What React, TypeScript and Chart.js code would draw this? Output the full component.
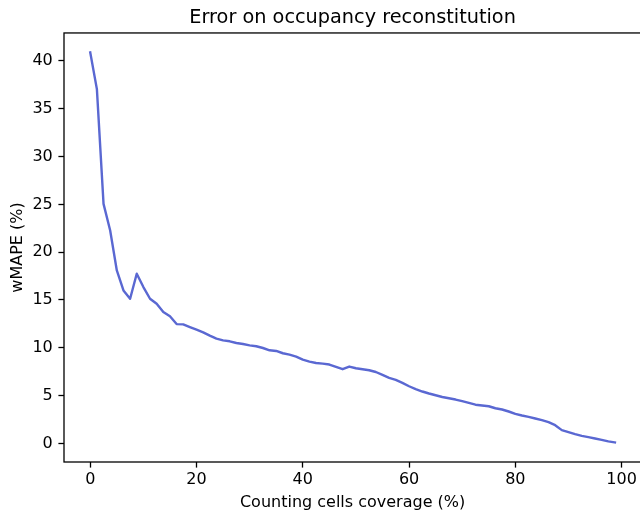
import React, { useEffect, useRef } from "react";
import { Chart, registerables } from "chart.js";

Chart.register(...registerables);

const coverage = [
  0, 1.25, 2.5, 3.75, 5, 6.25, 7.5, 8.75, 10, 11.25,
  12.5, 13.75, 15, 16.25, 17.5, 18.75, 20, 21.25, 22.5, 23.75,
  25, 26.25, 27.5, 28.75, 30, 31.25, 32.5, 33.75, 35, 36.25,
  37.5, 38.75, 40, 41.25, 42.5, 43.75, 45, 46.25, 47.5, 48.75,
  50, 51.25, 52.5, 53.75, 55, 56.25, 57.5, 58.75, 60, 61.25,
  62.5, 63.75, 65, 66.25, 67.5, 68.75, 70, 71.25, 72.5, 73.75,
  75, 76.25, 77.5, 78.75, 80, 81.25, 82.5, 83.75, 85, 86.25,
  87.5, 88.75, 90, 91.25, 92.5, 93.75, 95, 96.25, 97.5, 98.75,
];

const wmape = [
  40.88, 37.05, 25.05, 22.26, 18.09, 16.0, 15.13, 17.74, 16.35, 15.13,
  14.6, 13.74, 13.29, 12.48, 12.45, 12.17, 11.9, 11.62, 11.27, 10.96,
  10.78, 10.68, 10.5, 10.4, 10.26, 10.16, 9.98, 9.74, 9.67, 9.43,
  9.29, 9.08, 8.77, 8.56, 8.41, 8.35, 8.25, 8.0, 7.76, 8.04,
  7.86, 7.76, 7.65, 7.47, 7.16, 6.85, 6.64, 6.33, 5.98, 5.67,
  5.43, 5.22, 5.04, 4.86, 4.73, 4.59, 4.42, 4.24, 4.05, 3.97,
  3.89, 3.68, 3.55, 3.34, 3.09, 2.92, 2.78, 2.61, 2.43, 2.22,
  1.91, 1.39, 1.18, 0.97, 0.79, 0.66, 0.52, 0.38, 0.21, 0.1,
];

const xTickValues = [0, 20, 40, 60, 80, 100];
const yTickValues = [0, 5, 10, 15, 20, 25, 30, 35, 40];

const chartTitle = "Error on occupancy reconstitution";
const xLabel = "Counting cells coverage (%)";
const yLabel = "wMAPE (%)";

const W = 660;
const H = 513;
const FONT = "DejaVu Sans";
const LINE_COLOR = "#5a68d2";

export default function App() {
  const ref = useRef<HTMLCanvasElement | null>(null);

  useEffect(() => {
    if (!ref.current) return;
    const frame = {
      id: "frame",
      afterDraw(chart: any) {
        const { ctx, chartArea } = chart;
        const { left, top, right, bottom } = chartArea;
        ctx.save();
        ctx.strokeStyle = "#000";
        ctx.lineWidth = 1.3;
        ctx.strokeRect(left, top, right - left, bottom - top);
        ctx.restore();
      },
    };
    const chart = new Chart(ref.current, {
      type: "line",
      data: {
        datasets: [
          {
            data: coverage.map((x, i) => ({ x, y: wmape[i] })),
            borderColor: LINE_COLOR,
            backgroundColor: LINE_COLOR,
            borderWidth: 2.4,
            pointRadius: 0,
            pointHoverRadius: 0,
            fill: false,
            tension: 0,
            borderJoinStyle: "round",
            borderCapStyle: "square",
          },
        ],
      },
      options: {
        animation: false,
        responsive: false,
        devicePixelRatio: 1,
        events: [],
        layout: { padding: { left: 0, right: 18.8, top: 0, bottom: 0 } },
        plugins: {
          legend: { display: false },
          tooltip: { enabled: false },
          title: {
            display: true,
            text: chartTitle,
            color: "#000",
            fullSize: false,
            font: { family: FONT, size: 19.3, weight: "normal" },
            padding: { top: 6, bottom: 3.8 },
          },
        },
        scales: {
          x: {
            type: "linear",
            min: -4.94,
            max: 103.69,
            afterBuildTicks: (s: any) => {
              s.ticks = xTickValues.map((v) => ({ value: v }));
            },
            afterFit: (s: any) => {
              s.height = 51;
            },
            grid: {
              display: true,
              drawOnChartArea: false,
              drawTicks: true,
              tickLength: 5.6,
              tickWidth: 1.3,
              tickColor: "#000",
              color: "#000",
            },
            border: { display: false },
            ticks: {
              color: "#000",
              font: { family: FONT, size: 16 },
              padding: 3,
              autoSkip: false,
              maxRotation: 0,
              minRotation: 0,
              callback: (v: any) => String(v),
            },
            title: {
              display: true,
              text: xLabel,
              color: "#000",
              font: { family: FONT, size: 16 },
              padding: { top: 0, bottom: 0.8 },
            },
          },
          y: {
            type: "linear",
            min: -1.94,
            max: 42.92,
            afterBuildTicks: (s: any) => {
              s.ticks = yTickValues.map((v) => ({ value: v }));
            },
            afterFit: (s: any) => {
              s.width = 64;
            },
            grid: {
              display: true,
              drawOnChartArea: false,
              drawTicks: true,
              tickLength: 5.6,
              tickWidth: 1.3,
              tickColor: "#000",
              color: "#000",
            },
            border: { display: false },
            ticks: {
              color: "#000",
              font: { family: FONT, size: 16 },
              padding: 5.6,
              autoSkip: false,
              callback: (v: any) => String(v),
            },
            title: {
              display: true,
              text: yLabel,
              color: "#000",
              font: { family: FONT, size: 16 },
              padding: { top: 7.9, bottom: 0 },
            },
          },
        },
      },
      plugins: [frame],
    } as any);
    return () => chart.destroy();
  }, []);

  return (
    <div
      style={{
        position: "absolute",
        left: 0,
        top: 0,
        width: 640,
        height: 513,
        overflow: "hidden",
        background: "#fff",
      }}
    >
      <canvas
        ref={ref}
        width={W}
        height={H}
        style={{ width: W, height: H, display: "block" }}
      />
    </div>
  );
}
